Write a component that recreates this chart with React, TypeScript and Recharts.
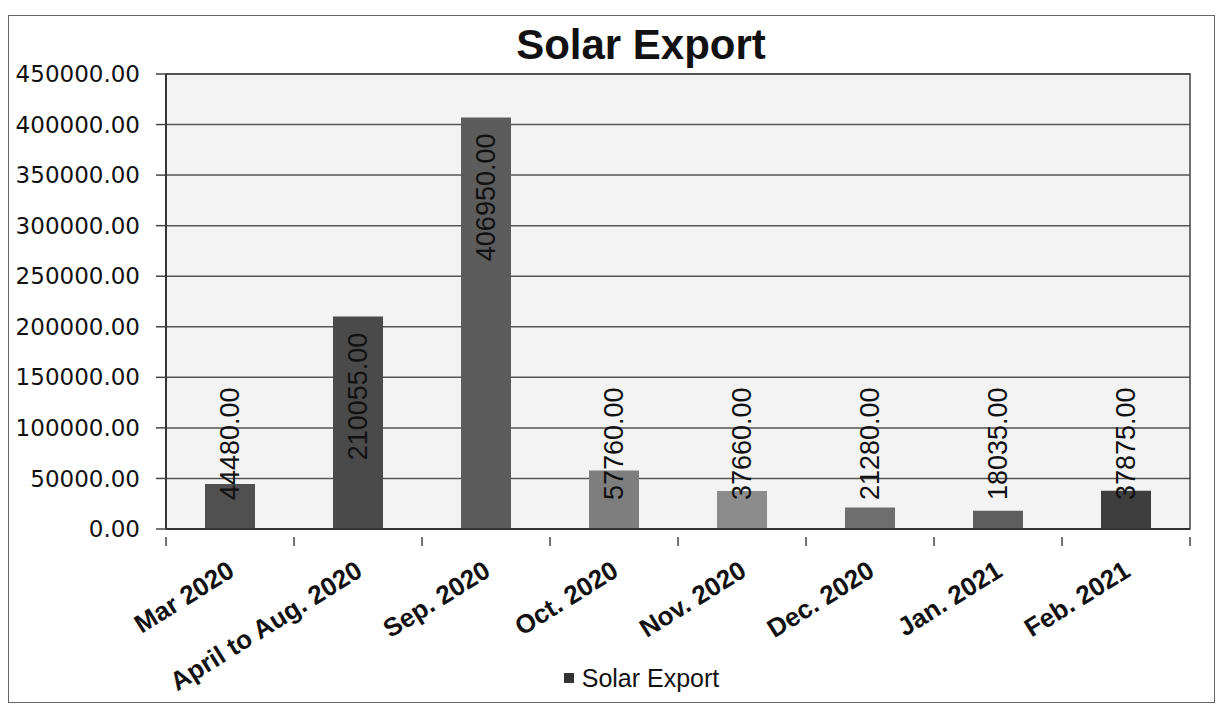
import React from 'react';
import { BarChart, Bar, XAxis, YAxis, CartesianGrid, Cell, Legend, LabelList, ReferenceArea } from 'recharts';

const categories = ['Mar 2020', 'April to Aug. 2020', 'Sep. 2020', 'Oct. 2020', 'Nov. 2020', 'Dec. 2020', 'Jan. 2021', 'Feb. 2021'];
const solarExport = [44480, 210055, 406950, 57760, 37660, 21280, 18035, 37875];
const barColors = ['#505050', '#4a4a4a', '#5c5c5c', '#7e7e7e', '#8c8c8c', '#6e6e6e', '#5e5e5e', '#3e3e3e'];
const yTicks = [0, 50000, 100000, 150000, 200000, 250000, 300000, 350000, 400000, 450000];

const data = categories.map((name, i) => ({ name, value: solarExport[i] }));

const CHART_W = 1205;
const CHART_H = 686;
const MARGIN = { top: 58, right: 24, left: 0, bottom: 0 };
const Y_W = 157;
const PLOT_W = CHART_W - MARGIN.left - MARGIN.right - Y_W;
const HALF_STEP = PLOT_W / categories.length / 2;

const XTick = (props: any) => {
  const { x, y, payload, index } = props;
  return (
    <g transform={`translate(${x},${y})`}>
      <line x1={HALF_STEP} x2={HALF_STEP} y1={0} y2={9} stroke="#444" strokeWidth={1.5} />
      {index === 0 && <line x1={-HALF_STEP} x2={-HALF_STEP} y1={0} y2={9} stroke="#444" strokeWidth={1.5} />}
      <text
        x={0}
        y={0}
        transform="translate(6,38) rotate(-32)"
        textAnchor="end"
        fontFamily="'Liberation Sans', Arial, sans-serif"
        fontSize={26}
        fontWeight="bold"
        fill="#111"
      >
        {payload.value}
      </text>
    </g>
  );
};

const BarValueLabel = (props: any) => {
  const { x, y, width, height, value } = props;
  const fs = 27;
  const text = Number(value).toFixed(2);
  const len = text.length * 0.53 * fs;
  const cx = x + width / 2;
  const axisY = y + height;
  let ay: number;
  let anchor: 'start' | 'end';
  if (height >= len + 40) {
    ay = y + 16;
    anchor = 'end';
  } else {
    ay = axisY - 29;
    anchor = 'start';
  }
  return (
    <text
      x={cx}
      y={ay}
      transform={`rotate(-90, ${cx}, ${ay})`}
      textAnchor={anchor}
      dominantBaseline="central"
      fontFamily="'Liberation Sans', Arial, sans-serif"
      fontSize={fs}
      fill="#111"
    >
      {text}
    </text>
  );
};

const LegendContent = () => (
  <div
    style={{
      width: '100%',
      height: 48,
      display: 'flex',
      justifyContent: 'center',
      alignItems: 'center',
      paddingLeft: 84,
      boxSizing: 'border-box',
      fontFamily: "'Liberation Sans', Arial, sans-serif",
      fontSize: 25,
      color: '#111',
    }}
  >
    <span style={{ display: 'inline-block', width: 10, height: 10, background: '#333', marginRight: 8 }} />
    <span>Solar Export</span>
  </div>
);

export default function App() {
  return (
    <div
      style={{
        position: 'relative',
        marginTop: 7,
        width: 1207,
        height: 688,
        border: '1px solid #666',
        boxSizing: 'border-box',
        background: '#fff',
      }}
    >
      <div
        style={{
          position: 'absolute',
          left: 632,
          top: 8,
          transform: 'translateX(-50%)',
          fontFamily: "'Liberation Sans', Arial, sans-serif",
          fontSize: 42,
          lineHeight: '42px',
          fontWeight: 'bold',
          color: '#111',
          whiteSpace: 'nowrap',
          zIndex: 2,
        }}
      >
        Solar Export
      </div>
      <BarChart width={CHART_W} height={CHART_H} data={data} margin={MARGIN}>
        <CartesianGrid vertical={false} stroke="#555" strokeWidth={1.5} fill="#f3f3f3" />
        <ReferenceArea y1={0} y2={450000} fill="none" stroke="#444" strokeWidth={1.5} ifOverflow="visible" />
        <XAxis
          dataKey="name"
          height={125}
          interval={0}
          axisLine={{ stroke: '#333', strokeWidth: 2 }}
          tickLine={false}
          tick={<XTick />}
        />
        <YAxis
          width={Y_W}
          domain={[0, 450000]}
          ticks={yTicks}
          interval={0}
          tickFormatter={(v: number) => v.toFixed(2)}
          axisLine={{ stroke: '#333', strokeWidth: 2 }}
          tickLine={{ stroke: '#444', strokeWidth: 1.5 }}
          tickSize={10}
          tickMargin={16}
          tick={{ fontFamily: "'DejaVu Sans', Verdana, sans-serif", fontSize: 23, fill: '#111' }}
        />
        <Legend verticalAlign="bottom" height={48} content={<LegendContent />} />
        <Bar dataKey="value" name="Solar Export" barSize={50} isAnimationActive={false}>
          {data.map((d, i) => (
            <Cell key={d.name} fill={barColors[i]} />
          ))}
          <LabelList dataKey="value" content={<BarValueLabel />} />
        </Bar>
      </BarChart>
    </div>
  );
}
